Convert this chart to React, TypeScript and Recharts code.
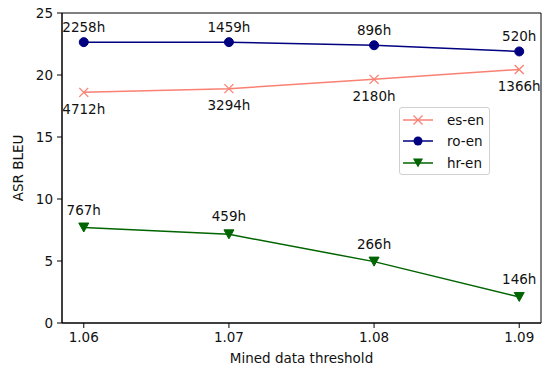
import React from 'react';
import { LineChart, Line, XAxis, YAxis, LabelList, ReferenceArea, Label } from 'recharts';

const thresholds = [1.06, 1.07, 1.08, 1.09];
const esEn = [18.6, 18.9, 19.65, 20.45];
const roEn = [22.65, 22.65, 22.4, 21.9];
const hrEn = [7.7, 7.15, 4.95, 2.1];
const esHours = ['4712h', '3294h', '2180h', '1366h'];
const roHours = ['2258h', '1459h', '896h', '520h'];
const hrHours = ['767h', '459h', '266h', '146h'];
const yTicks = [0, 5, 10, 15, 20, 25];

const data = thresholds.map((t, i) => ({
  t,
  es: esEn[i],
  ro: roEn[i],
  hr: hrEn[i],
  esH: esHours[i],
  roH: roHours[i],
  hrH: hrHours[i],
}));

const FONT = 'DejaVu Sans';
const FS = 13.5;
const SALMON = '#fa8072';
const NAVY = '#000080';
const GREEN = '#006400';
const TEXT = '#111';

const XDot = (p: any) => {
  const { cx, cy } = p;
  if (cx == null || cy == null) return null;
  const s = 4.5;
  return (
    <g>
      <line x1={cx - s} y1={cy - s} x2={cx + s} y2={cy + s} stroke={SALMON} strokeWidth={1.3} />
      <line x1={cx - s} y1={cy + s} x2={cx + s} y2={cy - s} stroke={SALMON} strokeWidth={1.3} />
    </g>
  );
};

const CircleDot = (p: any) => {
  const { cx, cy } = p;
  if (cx == null || cy == null) return null;
  return <circle cx={cx} cy={cy} r={4.5} fill={NAVY} stroke={NAVY} />;
};

const TriDot = (p: any) => {
  const { cx, cy } = p;
  if (cx == null || cy == null) return null;
  const s = 5;
  return (
    <path
      d={`M${cx - s},${cy - s * 0.9} L${cx + s},${cy - s * 0.9} L${cx},${cy + s * 0.9} Z`}
      fill={GREEN}
      stroke={GREEN}
    />
  );
};

const legendItems = [
  { name: 'es-en', color: SALMON, marker: 'x' },
  { name: 'ro-en', color: NAVY, marker: 'o' },
  { name: 'hr-en', color: GREEN, marker: 'v' },
];

const LegendBox = () => (
  <div
    style={{
      position: 'absolute',
      left: 399,
      top: 107,
      width: 91,
      height: 68,
      border: '1px solid #d0d0d0',
      borderRadius: 3,
      background: 'rgba(255,255,255,0.8)',
      boxSizing: 'border-box',
      fontFamily: FONT,
      fontSize: FS,
      color: TEXT,
      paddingTop: 1,
    }}
  >
    {legendItems.map((it) => (
      <div key={it.name} style={{ display: 'flex', alignItems: 'center', height: 21.5 }}>
        <svg width={40} height={14} style={{ marginLeft: 3 }}>
          <line x1={0} y1={7} x2={30} y2={7} stroke={it.color} strokeWidth={1.5} />
          {it.marker === 'x' && (
            <g>
              <line x1={10.5} y1={2.5} x2={19.5} y2={11.5} stroke={it.color} strokeWidth={1.3} />
              <line x1={10.5} y1={11.5} x2={19.5} y2={2.5} stroke={it.color} strokeWidth={1.3} />
            </g>
          )}
          {it.marker === 'o' && <circle cx={15} cy={7} r={4.5} fill={it.color} />}
          {it.marker === 'v' && <path d="M10,2.5 L20,2.5 L15,11.5 Z" fill={it.color} />}
        </svg>
        <span style={{ marginLeft: 4 }}>{it.name}</span>
      </div>
    ))}
  </div>
);

const tickStyle = { fontFamily: FONT, fontSize: FS, fill: TEXT };
const labelStyle = { fontFamily: FONT, fontSize: FS, fill: TEXT };

export default function App() {
  return (
    <div style={{ position: 'absolute', left: 0, top: 0, width: 545, height: 367, background: '#fff' }}>
      <LineChart width={545} height={367} data={data} margin={{ top: 13, right: 4, left: 0, bottom: 0 }}>
        <ReferenceArea
          x1={1.0585}
          x2={1.0915}
          y1={0}
          y2={25}
          fill="none"
          stroke="#000"
          strokeWidth={1}
          ifOverflow="visible"
        />
        <XAxis
          dataKey="t"
          type="number"
          domain={[1.0585, 1.0915]}
          ticks={thresholds}
          tickFormatter={(v: number) => v.toFixed(2)}
          allowDataOverflow
          height={44}
          tick={tickStyle}
          tickSize={5}
          tickMargin={4}
          stroke="#000"
          tickLine={{ stroke: '#000' }}
        >
          <Label
            content={(props: any) => {
              const vb = props.viewBox;
              return (
                <text
                  x={vb.x + vb.width / 2}
                  y={358}
                  textAnchor="middle"
                  dominantBaseline="central"
                  fontFamily={FONT}
                  fontSize={FS}
                  fill={TEXT}
                >
                  Mined data threshold
                </text>
              );
            }}
          />
        </XAxis>
        <YAxis
          type="number"
          domain={[0, 25]}
          ticks={yTicks}
          allowDataOverflow
          width={62}
          tick={tickStyle}
          tickSize={5}
          tickMargin={4}
          stroke="#000"
          tickLine={{ stroke: '#000' }}
        >
          <Label
            content={(props: any) => {
              const vb = props.viewBox;
              const cy = vb.y + vb.height / 2;
              return (
                <text
                  x={18}
                  y={cy}
                  transform={`rotate(-90, 18, ${cy})`}
                  textAnchor="middle"
                  dominantBaseline="central"
                  fontFamily={FONT}
                  fontSize={FS}
                  fill={TEXT}
                >
                  ASR BLEU
                </text>
              );
            }}
          />
        </YAxis>
        <Line
          name="es-en"
          dataKey="es"
          stroke={SALMON}
          strokeWidth={1.5}
          dot={<XDot />}
          activeDot={false}
          isAnimationActive={false}
        >
          <LabelList dataKey="esH" position="bottom" offset={12} style={labelStyle} />
        </Line>
        <Line
          name="ro-en"
          dataKey="ro"
          stroke={NAVY}
          strokeWidth={1.5}
          dot={<CircleDot />}
          activeDot={false}
          isAnimationActive={false}
        >
          <LabelList dataKey="roH" position="top" offset={10} style={labelStyle} />
        </Line>
        <Line
          name="hr-en"
          dataKey="hr"
          stroke={GREEN}
          strokeWidth={1.5}
          dot={<TriDot />}
          activeDot={false}
          isAnimationActive={false}
        >
          <LabelList dataKey="hrH" position="top" offset={13} style={labelStyle} />
        </Line>
      </LineChart>
      <LegendBox />
    </div>
  );
}
